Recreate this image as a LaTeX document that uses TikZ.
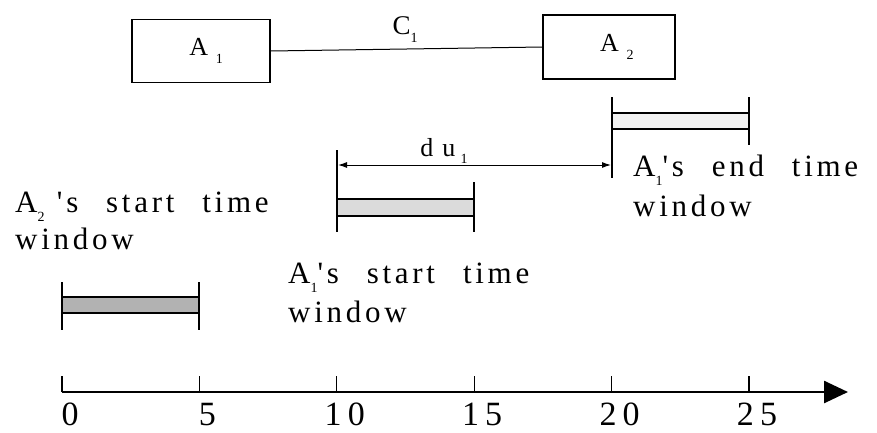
\documentclass[tikz,border=0pt]{standalone}
\usepackage{fontspec}
\setmainfont{Liberation Serif}
\newfontfamily\spfont[LetterSpace=12]{Liberation Serif}
\newfontfamily\numfont[LetterSpace=18]{Liberation Serif}
\usetikzlibrary{arrows.meta}
\newcommand\sbs[1]{\raisebox{-0.3em}{\fontsize{14}{14}\selectfont #1}}
\newcommand\wsp{\hspace{0.9em}}
\begin{document}
\begin{tikzpicture}[x=1pt,y=-1pt,
  abox/.style={draw,line width=1.3pt,inner sep=0pt,font=\spfont\fontsize{26}{26}\selectfont},
  lbl/.style={anchor=base west,inner sep=0pt,font=\spfont\fontsize{31}{31}\selectfont},
  num/.style={anchor=base,inner sep=0pt,font=\numfont\fontsize{34}{34}\selectfont},
  vline/.style={line width=1.2pt},
  bline/.style={line width=1.6pt},
  dimarrow/.style={line width=1pt,{Latex[length=9pt,width=6pt]}-{Latex[length=9pt,width=6pt]}},
  axisline/.style={line width=2.6pt,-{Triangle[length=24pt,width=22pt]}}]
\useasboundingbox (0,0) rectangle (877,432);

% top boxes
\node[abox,minimum width=138pt,minimum height=63pt] (A1) at (201,51) {\hspace{0.4em}A\hspace{0.3em}\sbs{1}};
\node[abox,minimum width=132pt,minimum height=64pt] (A2) at (609,47) {\hspace{0.6em}A\hspace{0.3em}\sbs{2}};
\draw[line width=1pt] (A1.east) -- (A2.west);
\node[font=\fontsize{27}{27}\selectfont,inner sep=0pt,anchor=base] (C1) at (405,34) {C\sbs{1}};

% axis
\coordinate (O) at (62,392);
\coordinate (E) at (848,392);
\draw[axisline] (O) -- (E);
\foreach \i/\t in {0/0,1/5,2/10,3/15,4/20,5/25}{
  \draw[vline] (62+137.4*\i,392) -- (62+137.4*\i,376);
  \node[num] (n\i) at (70+137.4*\i,425) {\t};
}

% A2 start window
\fill[gray!60] (62,297) rectangle (199,313);
\draw[bline] (62,297) -- (199,297) (62,313) -- (199,313);
\draw[vline] (62,282) -- (62,330) (199,282) -- (199,330);

% A1 start window
\fill[gray!28] (337,199) rectangle (474,216);
\draw[bline] (337,199) -- (474,199) (337,216) -- (474,216);
\draw[vline] (337,150) -- (337,232) (474,182) -- (474,232);

% A1 end window
\fill[gray!10] (612,113) rectangle (749,129);
\draw[bline] (612,113) -- (749,113) (612,129) -- (749,129);
\draw[vline] (612,97) -- (612,178) (749,97) -- (749,145);

% dimension
\coordinate (dL) at (338,165);
\coordinate (dR) at (611,165);
\draw[dimarrow] (dL) -- (dR);
\node[anchor=base,inner sep=0pt,font=\spfont\fontsize{26}{26}\selectfont] (du) at (444,156) {d\hspace{0.35em}u\hspace{0.2em}\sbs{1}};

% labels
\node[lbl] (t1a) at (15,212) {A\sbs{2}\hspace{0.4em}'s\wsp start\wsp time};
\node[lbl] (t1b) at (15,249) {window};
\node[lbl] (t2a) at (288,283) {A\sbs{1}'s\wsp start\wsp time};
\node[lbl] (t2b) at (288,322) {window};
\node[lbl] (t3a) at (633,176) {A\sbs{1}'s\wsp end\wsp time};
\node[lbl] (t3b) at (633,216) {window};
\end{tikzpicture}
\end{document}
